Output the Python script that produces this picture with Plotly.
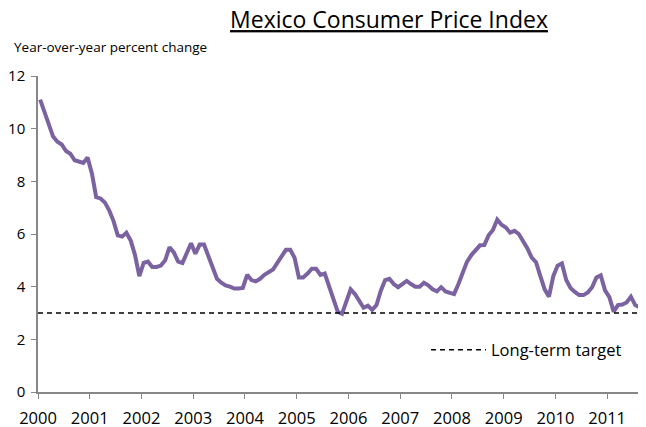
import plotly.graph_objects as go

years = list(range(2000, 2012))
tick_labels = [str(y) for y in years]

# Monthly year-over-year CPI change, Jan 2000 .. Sep 2011
cpi_2000 = [11.1, 10.6, 10.15, 9.7, 9.5, 9.4, 9.15, 9.05, 8.8, 8.75, 8.7, 8.9]
cpi_2001 = [8.3, 7.4, 7.35, 7.2, 6.9, 6.5, 5.95, 5.9, 6.05, 5.75, 5.2, 4.4]
cpi_2002 = [4.9, 4.95, 4.75, 4.75, 4.8, 5.0, 5.5, 5.3, 4.95, 4.9, 5.3, 5.65]
cpi_2003 = [5.25, 5.6, 5.6, 5.15, 4.65, 4.3, 4.15, 4.05, 4.0, 3.93, 3.93, 3.95]
cpi_2004 = [4.45, 4.25, 4.2, 4.3, 4.45, 4.55, 4.65, 4.9, 5.15, 5.4, 5.4, 5.1]
cpi_2005 = [4.35, 4.35, 4.5, 4.68, 4.68, 4.45, 4.5, 4.0, 3.5, 3.05, 2.97, 3.45]
cpi_2006 = [3.9, 3.72, 3.45, 3.2, 3.28, 3.12, 3.3, 3.85, 4.25, 4.3, 4.1, 3.98]
cpi_2007 = [4.1, 4.22, 4.1, 4.0, 4.0, 4.15, 4.05, 3.9, 3.82, 3.98, 3.82, 3.76]
cpi_2008 = [3.72, 4.1, 4.5, 4.95, 5.2, 5.4, 5.57, 5.58, 5.95, 6.15, 6.55, 6.35]
cpi_2009 = [6.25, 6.05, 6.12, 6.0, 5.75, 5.45, 5.1, 4.93, 4.4, 3.9, 3.62, 4.4]
cpi_2010 = [4.8, 4.88, 4.25, 3.95, 3.8, 3.68, 3.68, 3.78, 3.98, 4.35, 4.43, 3.86]
cpi_2011 = [3.6, 3.05, 3.3, 3.32, 3.4, 3.62, 3.3, 3.22, 3.2]

cpi = (cpi_2000 + cpi_2001 + cpi_2002 + cpi_2003 + cpi_2004 + cpi_2005 +
       cpi_2006 + cpi_2007 + cpi_2008 + cpi_2009 + cpi_2010 + cpi_2011)
target_value = 3.0

n = len(cpi)
xs = [2000 + (i + 0.5) / 12 for i in range(n)]
target = [target_value] * n
x_end = 2000 + n / 12

fig = go.Figure()
fig.add_trace(go.Scatter(
    x=xs, y=cpi, mode="lines", showlegend=False,
    line=dict(color="#7B63A1", width=4),
))
fig.add_trace(go.Scatter(
    x=[2000] + xs[1:-1] + [x_end], y=target, mode="lines",
    name="Long-term target",
    line=dict(color="black", width=1.5, dash="5px,4px"),
))

FONT = "Open Sans"
axis_col = "#878787"

# page body has an 8px margin; figure is offset accordingly
W, H = 638, 419
L, T, PW, PH = 30, 68, 608, 316

fig.update_layout(
    width=W, height=H,
    margin=dict(l=L, r=W - L - PW, t=T, b=H - T - PH, autoexpand=False),
    paper_bgcolor="white", plot_bgcolor="white",
    font=dict(family=FONT, color="black"),
    title=dict(
        text="<u>Mexico Consumer Price Index</u>",
        x=381 / W, xanchor="center", xref="container",
        y=1 - 12 / H, yanchor="middle", yref="container",
        font=dict(family=FONT, size=23, color="black"),
        automargin=False,
    ),
    showlegend=True,
    legend=dict(
        x=(418 - L) / PW, y=(T + PH - 342) / PH, xanchor="left", yanchor="middle",
        bgcolor="rgba(0,0,0,0)", font=dict(family=FONT, size=16.5),
        itemwidth=55,
    ),
    xaxis=dict(
        range=[2000, x_end], tickvals=years, ticktext=tick_labels,
        showgrid=False, zeroline=False, showline=True, automargin=False,
        linecolor=axis_col, linewidth=1.5,
        ticks="outside", ticklen=5, tickcolor=axis_col, tickwidth=1,
        tickfont=dict(family=FONT, size=16.5, color="black"),
        ticklabelstandoff=5,
    ),
    yaxis=dict(
        range=[0, 12], tickvals=[0, 2, 4, 6, 8, 10, 12],
        showgrid=False, zeroline=False, showline=True, automargin=False,
        linecolor=axis_col, linewidth=1.5,
        ticks="outside", ticklen=5, tickcolor=axis_col, tickwidth=1,
        tickfont=dict(family=FONT, size=15, color="black"),
        ticklabelstandoff=3,
    ),
    annotations=[dict(
        text="Year-over-year percent change",
        xref="paper", yref="paper",
        x=(4 - L) / PW, y=(T + PH - 39) / PH,
        xanchor="left", yanchor="middle", showarrow=False,
        font=dict(family=FONT, size=13.5, color="black"),
    )],
)

fig.write_html("out.html")
